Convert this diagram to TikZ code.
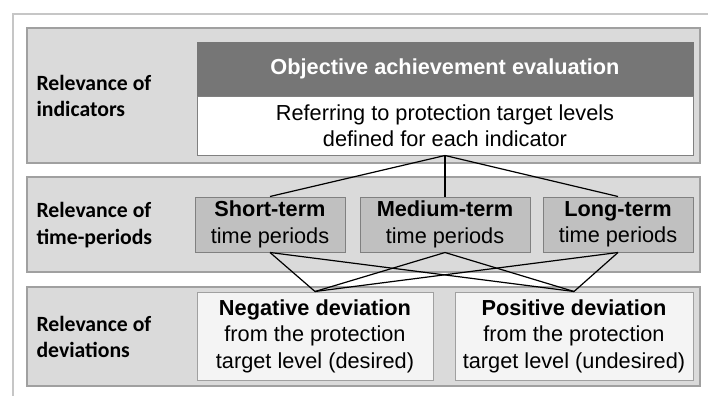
\documentclass[tikz,border=0pt]{standalone}
\usepackage{fontspec}
\setmainfont{Liberation Sans}
\newfontfamily\lblfont{Carlito}

\definecolor{panelgray}{RGB}{218,218,218}
\definecolor{panelline}{RGB}{160,160,160}
\definecolor{headgray}{RGB}{118,118,118}
\definecolor{termgray}{RGB}{192,192,192}
\definecolor{devwhite}{RGB}{244,244,244}

\tikzset{every picture/.style={line width=0.75pt}}

\begin{document}
\begin{tikzpicture}[x=0.75pt,y=0.75pt,yscale=-1,xscale=1,
  panel/.style={draw=panelline,fill=panelgray,line width=1pt,inner sep=0pt,anchor=center},
  headbox/.style={draw=headgray,fill=headgray,text=white,inner sep=0pt,font=\bfseries},
  bodybox/.style={draw=gray,fill=white,inner sep=0pt,align=center},
  termbox/.style={draw=gray,fill=termgray,inner sep=0pt,align=center},
  devbox/.style={draw=panelline,fill=devwhite,inner sep=0pt,align=center},
  rowlabel/.style={anchor=west,align=left,inner sep=0pt,font=\lblfont\bfseries},
  link/.style={draw=black,line width=0.9pt}]
\useasboundingbox (0,0) rectangle (708,396);
\fontsize{16.3}{19.8}\selectfont

%Outer frame
\draw [color=gray!45,line width=1pt] (708,14) -- (13,14) -- (13,396) ;

%Panels
\node [panel,minimum width=673*0.75pt,minimum height=135*0.75pt] (rowind) at (363.5,95.5) {};
\node [panel,minimum width=673*0.75pt,minimum height=95*0.75pt] (rowtime) at (363.5,224.5) {};
\node [panel,minimum width=673*0.75pt,minimum height=99*0.75pt] (rowdev) at (363.5,336.5) {};

%Objective box
\node [headbox,minimum width=496*0.75pt,minimum height=54*0.75pt] (head) at (445,69) {Objective achievement evaluation};
\node [bodybox,minimum width=496*0.75pt,minimum height=59*0.75pt] (eval) at (445,125.5) {Referring to protection target levels\\defined for each indicator};

%Time period boxes
\node [termbox,minimum width=150*0.75pt,minimum height=55*0.75pt] (short) at (270,224.5) {\textbf{Short-term}\\time periods};
\node [termbox,minimum width=170*0.75pt,minimum height=55*0.75pt] (medium) at (445,224.5) {\textbf{Medium-term}\\time periods};
\node [termbox,minimum width=150*0.75pt,minimum height=55*0.75pt] (long) at (618,224.5) {\textbf{Long-term}\\time periods};

%Deviation boxes
\node [devbox,minimum width=236*0.75pt,minimum height=88*0.75pt] (neg) at (315,336) {\textbf{Negative deviation}\\from the protection\\target level (desired)};
\node [devbox,minimum width=238*0.75pt,minimum height=88*0.75pt] (pos) at (574,336) {\textbf{Positive deviation}\\from the protection\\target level (undesired)};

%Links
\foreach \t in {short,medium,long}{
  \draw [link] (eval.south) -- (\t.north) ;
  \draw [link] (\t.south) -- (neg.north) ;
  \draw [link] (\t.south) -- (pos.north) ;
}

% Text Node
\node [rowlabel] (lblind) at (36,96) {Relevance of\\indicators};
% Text Node
\node [rowlabel] (lbltime) at (36,225) {Relevance of\\time-periods};
% Text Node
\node [rowlabel] (lbldev) at (36,337) {Relevance of\\deviations};

\end{tikzpicture}
\end{document}
